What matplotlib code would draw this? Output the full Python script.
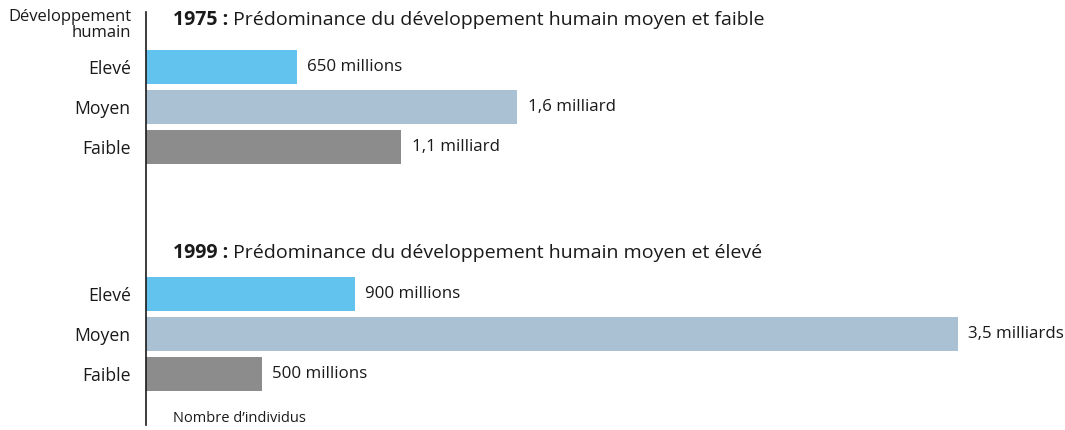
import matplotlib
matplotlib.use("Agg")
import matplotlib.pyplot as plt

plt.rcParams['font.family'] = ['Open Sans', 'DejaVu Sans']

levels = ["Elevé", "Moyen", "Faible"]
colors = ["#63c3ef", "#a9c1d3", "#8c8c8c"]

values_1975 = [0.65, 1.6, 1.1]   # milliards d'individus
labels_1975 = ["650 millions", "1,6 milliard", "1,1 milliard"]
values_1999 = [0.9, 3.5, 0.5]
labels_1999 = ["900 millions", "3,5 milliards", "500 millions"]

title_1975 = "Prédominance du développement humain moyen et faible"
title_1999 = "Prédominance du développement humain moyen et élevé"

fig = plt.figure(figsize=(10.65, 4.3), dpi=100)
ax = fig.add_axes([146 / 1065, 5 / 430, 919 / 1065, 413 / 430])

rows_1975 = [0, 1, 2]
rows_1999 = [5.675, 6.675, 7.675]

ax.barh(rows_1975, values_1975, height=0.85, color=colors)
ax.barh(rows_1999, values_1999, height=0.85, color=colors)

for rows, vals, labs in [(rows_1975, values_1975, labels_1975),
                         (rows_1999, values_1999, labels_1999)]:
    for r, v, l in zip(rows, vals, labs):
        ax.annotate(l, (v, r), xytext=(7.5, 0), textcoords='offset points',
                    va='center', ha='left', fontsize=12.2, color='#1a1a1a')

ax.set_xlim(0, 919 / 232)
ax.set_ylim(8.95, -1.375)

ax.set_yticks(rows_1975 + rows_1999)
ax.set_yticklabels(levels + levels, fontsize=12.7, color='#1a1a1a')
ax.tick_params(axis='y', length=0, pad=11)
ax.set_xticks([])

for s in ['top', 'right', 'bottom']:
    ax.spines[s].set_visible(False)
ax.spines['left'].set_color('#1a1a1a')
ax.spines['left'].set_linewidth(1.2)

for year, title, row in [("1975 :", title_1975, -1.175), ("1999 :", title_1999, 4.65)]:
    t = ax.text(27 / 232, row, year, fontsize=14, fontweight='bold',
                va='center', ha='left', color='#1a1a1a')
    ax.annotate(" " + title, xy=(1, 0.5), xycoords=t,
                fontsize=14, va='center', ha='left', color='#1a1a1a')

ax.text(27 / 232, 8.775, "Nombre d’individus", fontsize=10.5, va='center',
        ha='left', color='#1a1a1a')

fig.text(131 / 1065, 1 - 25 / 430, "Développement\nhumain", fontsize=12,
         ha='right', va='center', linespacing=0.95, color='#1a1a1a')

fig.savefig("out.png", dpi=100, facecolor='white')
